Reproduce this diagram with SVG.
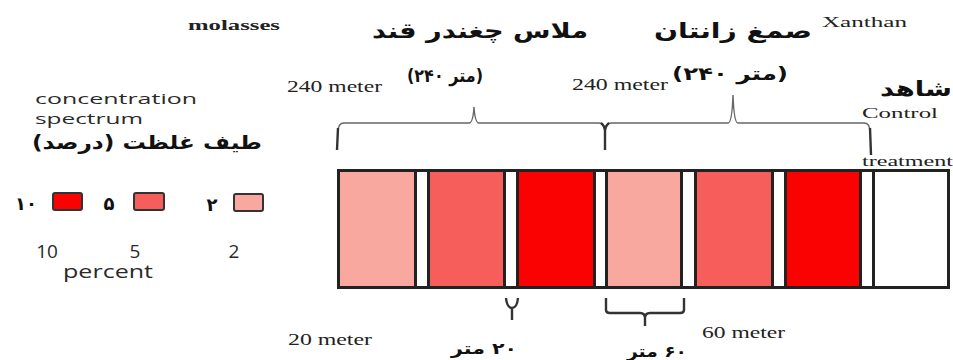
<svg xmlns="http://www.w3.org/2000/svg" width="953" height="360" viewBox="0 0 953 360">
<defs>
<style>
.en{font-family:"Liberation Serif",serif;fill:#222;}
.sa{font-family:"Open Sans","Noto Sans",sans-serif;fill:#2a2a2a;}
.ar{font-family:"DejaVu Sans",sans-serif;font-weight:bold;fill:#111;}
.cell{stroke:#222;stroke-width:3;}
.c2{fill:#F9A8A0;}
.c5{fill:#F65E5C;}
.c10{fill:#FA0202;}
.c0{fill:#FFFFFF;}
.br{fill:none;stroke:#666;stroke-width:1.4;}
.tick{fill:none;stroke:#333;stroke-width:2.4;}
.lg{stroke:#333;stroke-width:2;}
</style>
</defs>
<rect width="953" height="360" fill="#fff"/>

<g id="titles">
<text class="en" x="188" y="30" font-size="15" font-weight="bold" textLength="92" lengthAdjust="spacingAndGlyphs">molasses</text>
<text class="ar" x="480" y="38" font-size="21" text-anchor="middle" textLength="216" lengthAdjust="spacingAndGlyphs">ملاس چغندر قند</text>
<text class="ar" x="733" y="38" font-size="21" text-anchor="middle" textLength="158" lengthAdjust="spacingAndGlyphs">صمغ زانتان</text>
<text class="en" x="822" y="27" font-size="14" textLength="85" lengthAdjust="spacingAndGlyphs">Xanthan</text>
<text class="en" x="287" y="92" font-size="17" textLength="95" lengthAdjust="spacingAndGlyphs">240 meter</text>
<text class="ar" x="445" y="82" font-size="18" text-anchor="middle" textLength="76" lengthAdjust="spacingAndGlyphs">(۲۴۰ متر)</text>
<text class="en" x="572" y="90" font-size="17" textLength="96" lengthAdjust="spacingAndGlyphs">240 meter</text>
<text class="ar" x="730" y="80" font-size="18" text-anchor="middle" textLength="116" lengthAdjust="spacingAndGlyphs">(۲۴۰ متر)</text>
<text class="ar" x="916" y="96" font-size="21" text-anchor="middle" textLength="72" lengthAdjust="spacingAndGlyphs">شاهد</text>
<text class="en" x="862" y="118" font-size="15" textLength="76" lengthAdjust="spacingAndGlyphs">Control</text>
<text class="en" x="862" y="166" font-size="15" textLength="91" lengthAdjust="spacingAndGlyphs">treatment</text>
</g>

<g id="legend">
<text class="sa" x="35" y="104" font-size="15" textLength="162" lengthAdjust="spacingAndGlyphs">concentration</text>
<text class="sa" x="35" y="124" font-size="15" textLength="108" lengthAdjust="spacingAndGlyphs">spectrum</text>
<text class="ar" x="147" y="149" font-size="19" text-anchor="middle" direction="rtl" textLength="230" lengthAdjust="spacingAndGlyphs">طیف غلظت (درصد)</text>
<g id="legend-10">
<text class="ar" x="26" y="210" font-size="18" text-anchor="middle">۱۰</text>
<rect class="lg c10" x="53" y="193" width="29" height="17" rx="2"/>
<text class="sa" x="47" y="258" font-size="19" text-anchor="middle">10</text>
</g>
<g id="legend-5">
<text class="ar" x="109" y="210" font-size="18" text-anchor="middle">۵</text>
<rect class="lg c5" x="134" y="193" width="30" height="17" rx="2"/>
<text class="sa" x="135" y="258" font-size="19" text-anchor="middle">5</text>
</g>
<g id="legend-2">
<text class="ar" x="212" y="211" font-size="18" text-anchor="middle">۲</text>
<rect class="lg c2" x="234" y="194" width="29" height="17" rx="2"/>
<text class="sa" x="234" y="258" font-size="19" text-anchor="middle">2</text>
</g>
<text class="sa" x="63" y="278" font-size="18" textLength="90" lengthAdjust="spacingAndGlyphs">percent</text>
</g>

<g id="strip">
<rect x="338.5" y="170.5" width="610" height="117" fill="#fff" stroke="#222" stroke-width="3"/>
<g id="m2"><rect class="cell c2" x="338.5" y="170.5" width="77" height="117"/></g>
<g id="m5"><rect class="cell c5" x="428.5" y="170.5" width="76" height="117"/></g>
<g id="m10"><rect class="cell c10" x="517.5" y="170.5" width="77" height="117"/></g>
<g id="x2"><rect class="cell c2" x="606.5" y="170.5" width="75" height="117"/></g>
<g id="x5"><rect class="cell c5" x="695.5" y="170.5" width="77" height="117"/></g>
<g id="x10"><rect class="cell c10" x="785.5" y="170.5" width="75" height="117"/></g>
<g id="control"><rect class="cell c0" x="873.5" y="170.5" width="75" height="117"/></g>
</g>

<g id="connectors">
<path class="br" d="M338,132 Q338,123 344,123 L469,123 Q473,123 474,107 Q475,123 479,123 L599,123 Q605,123 605,132"/>
<path class="br" d="M605,132 Q605,123 611,123 L728,123 Q732,123 733,95 Q734,123 738,123 L864,123 Q870,123 870,132"/>
<path class="tick" d="M338,128 L337,150"/>
<path class="tick" d="M601,123 Q605,126 605,132 Q605,126 609,123 M605,130 L605,150"/>
<path class="tick" d="M870,128 L871,155"/>
<path class="tick" d="M506,298 Q507,308 512,308 Q517,308 518,298 M512,308 L512,320"/>
<path class="tick" d="M606,298 L606,310 Q606,313 610,313 L640,313 Q645,313 645,318 L645,326 M645,318 Q645,313 650,313 L680,313 Q684,313 684,310 L684,298"/>
</g>

<g id="bottom-labels">
<text class="en" x="288" y="345" font-size="17" textLength="84" lengthAdjust="spacingAndGlyphs">20 meter</text>
<text class="ar" x="484" y="354" font-size="16" text-anchor="middle" direction="rtl" textLength="66" lengthAdjust="spacingAndGlyphs">۲۰ متر</text>
<text class="ar" x="657" y="357" font-size="16" text-anchor="middle" direction="rtl" textLength="60" lengthAdjust="spacingAndGlyphs">۶۰ متر</text>
<text class="en" x="702" y="338" font-size="17" textLength="83" lengthAdjust="spacingAndGlyphs">60 meter</text>
</g>
</svg>
